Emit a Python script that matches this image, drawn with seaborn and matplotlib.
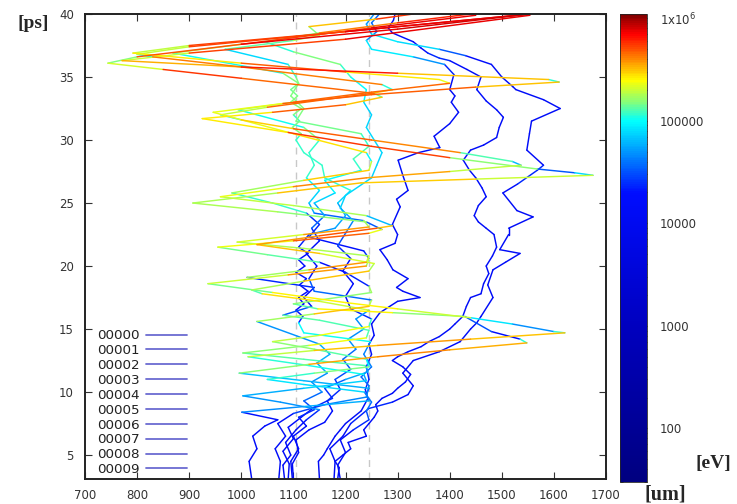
import numpy as np
import pandas as pd
import matplotlib
matplotlib.use("Agg")
import matplotlib.pyplot as plt
import seaborn as sns
from matplotlib.colors import LinearSegmentedColormap, LogNorm
from matplotlib.lines import Line2D
from matplotlib.cm import ScalarMappable

# ---------------- data: (x [um], t [ps], log10 E [eV]) ----------------
labels = ["00000", "00001", "00002", "00003", "00004",
          "00005", "00006", "00007", "00008", "00009"]

traj_00000 = [(1185,3.1,4.1),(1188,4.0,4.1),(1180,4.5,4.2),(1195,5.0,4.1),(1210,5.5,4.2),(1205,6.0,4.1),
              (1240,6.5,4.2),(1235,7.0,4.1),(1245,7.5,4.2),(1255,8.0,4.1),(1262,8.5,4.2),(1258,9.0,4.1),
              (1270,9.5,4.2),(1290,9.9,4.1),(1300,10.3,4.2),(1315,10.8,4.3),(1325,11.4,4.2),(1310,12.0,4.1),
              (1290,12.5,4.2),(1300,12.8,4.1),(1320,13.2,4.2),(1345,13.6,4.3),(1360,14.0,4.2),(1380,14.4,4.1),
              (1400,15.0,4.2),(1410,15.4,4.1),(1425,16.0,4.2),(1432,16.8,4.1),(1440,17.5,4.2),(1460,17.8,4.1),
              (1465,18.6,4.2),(1475,19.4,4.1),(1470,20.0,4.2),(1482,20.8,4.1),(1490,21.5,4.2),(1485,22.5,4.1),
              (1470,23.0,4.2),(1455,23.5,4.1),(1447,24.0,4.2),(1455,24.8,4.1),(1470,25.5,4.2),(1462,26.2,4.3),
              (1450,27.0,4.2),(1438,27.6,4.1),(1426,28.4,4.2),(1440,29.2,4.1),(1465,29.6,4.2),(1490,30.2,4.1),
              (1495,31.0,4.2),(1503,31.8,4.1),(1490,32.4,4.2),(1470,33.1,4.3),(1452,34.0,4.2),(1460,35.0,4.1),
              (1433,35.6,4.2),(1400,36.3,4.3),(1380,36.5,4.4),(1358,36.9,4.3),(1345,37.3,4.2),(1330,37.8,4.3),
              (1290,38.5,4.2),(1282,38.9,4.3),(1292,39.5,4.2),(1295,40.0,4.2)]

traj_00001 = [(1150,3.1,4.1),(1148,4.5,4.1),(1158,5.0,4.2),(1165,5.5,4.1),(1180,6.5,4.1),(1190,7.0,4.2),
              (1200,7.5,4.1),(1230,8.5,4.2),(1243,9.5,4.3),(1238,10.2,4.3),(1245,11.0,4.4),(1240,12.0,4.3),
              (1250,13.0,4.2),(1245,13.8,4.1),(1255,14.5,4.2),(1250,15.4,4.1),(1266,16.3,4.2),(1300,17.2,4.1),
              (1343,17.5,4.2),(1310,18.0,4.1),(1298,18.3,4.2),(1320,19.0,4.1),(1291,19.7,4.2),(1280,20.5,4.1),
              (1266,21.3,4.2),(1295,21.8,4.1),(1300,22.5,4.2),(1290,23.3,4.1),(1305,24.7,4.2),(1298,25.3,4.1),
              (1320,26.0,4.1),(1310,27.2,4.2),(1301,28.4,4.2),(1340,29.0,4.1),(1381,29.4,4.2),(1370,30.3,4.1),
              (1400,31.3,4.2),(1417,32.2,4.1),(1403,33.0,4.2),(1410,33.5,4.1),(1400,34.0,4.1),(1408,35.2,4.2),
              (1390,36.0,4.4),(1330,36.6,4.8),(1250,37.2,5.0),(1240,37.9,4.7),(1260,38.6,4.5),(1250,39.3,4.6),
              (1265,40.0,4.5)]

traj_00002 = [(1178,3.1,4.1),(1180,4.5,4.1),(1170,5.5,4.2),(1195,6.5,4.1),(1210,7.5,4.2),(1245,8.7,4.4),
              (1290,9.2,4.3),(1320,9.8,4.2),(1330,10.5,4.1),(1310,11.5,4.2),(1330,12.5,4.1),(1380,13.2,4.2),
              (1420,14.0,4.1),(1440,15.0,4.2),(1452,15.5,4.1),(1460,16.0,4.1),(1483,17.5,4.2),(1473,18.5,4.1),
              (1483,19.7,4.2),(1507,20.3,4.1),(1535,21.0,4.2),(1496,21.3,4.1),(1513,22.5,4.2),(1513,23.0,4.1),
              (1560,23.9,4.2),(1529,24.4,4.1),(1502,25.8,4.2),(1530,26.5,4.3),(1568,27.6,4.4),(1580,28.0,4.2),
              (1548,29.2,4.1),(1553,30.5,4.2),(1557,31.5,4.1),(1612,32.5,4.2),(1580,33.2,4.1),(1527,34.0,4.2),
              (1522,34.2,4.1),(1500,35.0,4.2),(1480,36.0,4.1),(1430,36.7,4.3),(1380,37.2,4.6),(1300,37.8,5.0),
              (1250,38.4,4.8),(1240,39.2,4.6),(1255,40.0,4.7)]

traj_00003 = [(1020,3.1,4.1),(1015,4.5,4.1),(1030,5.5,4.2),(1022,6.5,4.1),(1045,7.3,4.2),(1070,7.8,4.3),
              (1001,8.4,4.3),(1120,8.85,4.8),(1245,9.3,4.7),(1240,9.8,4.4),(1245,10.3,4.4),(1120,10.9,4.9),
              (996,11.5,4.6),(1130,12.2,5.4),(1262,12.8,5.6),(1400,13.35,5.6),(1548,13.9,5.3),(1535,14.2,4.3),
              (1480,14.8,4.2),(1429,16.0,4.6),(1290,16.3,5.4),(1147,16.6,5.4),(1100,17.0,4.3),(1250,17.9,5.5),
              (1245,18.4,4.4),(1200,19.5,4.2),(1150,20.3,4.3),(1050,20.9,5.4),(955,21.5,4.4),(1100,22.0,5.7),
              (1245,22.6,5.6),(1270,22.9,4.6),(1240,23.5,4.3),(1070,24.3,5.5),(907,25.0,4.5),(1070,25.8,5.5),
              (1230,26.6,5.5),(1450,26.9,5.4),(1675,27.2,5.0),(1640,27.4,4.6),(1568,27.7,4.3),(1400,28.6,5.5),
              (1250,29.5,5.8),(1090,30.6,5.6),(925,31.7,4.9),(1060,32.2,5.6),(1200,32.8,5.7),(1270,33.4,4.9),
              (1255,33.7,5.2),(1000,34.9,5.8),(850,35.6,5.6),(744,36.1,4.5),(800,36.6,5.4),(1000,37.6,5.8),
              (1300,38.8,5.9),(1554,40.0,5.9)]

traj_00004 = [(1083,3.1,4.1),(1080,4.2,4.1),(1095,5.0,4.1),(1085,6.0,4.2),(1105,7.0,4.2),(1125,7.8,4.3),
              (1150,8.6,4.4),(1075,9.2,4.8),(1003,9.7,4.4),(1120,10.3,4.9),(1240,10.9,4.8),(1235,11.4,4.5),
              (1130,12.1,5.2),(1013,12.8,4.6),(1140,13.3,5.5),(1262,13.7,5.5),(1440,14.2,5.6),(1621,14.7,5.2),
              (1600,14.8,4.6),(1520,15.4,4.7),(1440,15.9,5.0),(1300,16.6,5.4),(1200,17.1,5.4),(1060,17.9,5.4),
              (936,18.6,4.4),(1090,19.3,5.6),(1240,20.0,5.5),(1245,20.6,4.4),(1235,21.2,4.3),(1130,22.3,4.3),
              (1150,23.3,4.4),(1125,24.2,4.4),(1060,25.0,5.3),(982,25.8,4.4),(1120,26.8,5.5),(1245,27.6,5.4),
              (1250,28.3,4.9),(1240,29.0,5.0),(1100,30.5,5.6),(946,32.2,4.6),(1080,32.9,5.6),(1250,33.6,5.7),
              (1450,34.2,5.6),(1610,34.6,5.2),(1590,34.8,4.6),(1300,35.3,5.8),(1000,35.8,5.8),(771,36.3,4.7),
              (900,36.9,5.5),(1200,38.0,5.8),(1554,39.9,5.9)]

traj_00005 = [(1090,3.1,4.1),(1092,4.3,4.1),(1080,5.3,4.2),(1100,6.3,4.2),(1090,7.2,4.2),(1115,8.0,4.3),
              (1140,8.8,4.3),(1175,9.5,4.4),(1160,10.3,4.4),(1200,11.0,4.6),(1243,11.6,4.8),(1238,12.1,4.5),
              (1120,12.6,5.3),(1003,13.1,4.6),(1130,13.7,5.4),(1240,14.3,5.3),(1245,14.9,4.5),(1150,15.7,5.3),
              (1080,16.1,4.6),(1135,16.8,4.3),(1120,17.5,4.2),(1140,18.3,4.3),(1011,19.1,4.4),(1130,19.7,5.5),
              (1240,20.3,5.6),(1245,20.8,4.5),(1120,21.4,5.5),(992,21.9,4.5),(1120,22.5,5.6),(1245,23.1,5.5),
              (1235,23.6,4.4),(1140,24.2,4.6),(1130,25.0,4.8),(1150,26.0,4.9),(1125,27.0,5.0),(1140,28.0,5.1),
              (1130,29.0,5.0),(1150,30.0,5.1),(1120,31.0,5.2),(994,32.4,4.5),(1100,33.0,5.5),(1250,33.8,5.7),
              (1400,34.5,5.5),(1380,34.8,4.9),(1200,35.4,5.6),(1000,36.1,5.7),(792,36.9,4.6),(900,37.5,5.5),
              (1200,38.6,5.8),(1554,40.0,5.9)]

traj_00006 = [(1098,3.1,4.1),(1095,4.5,4.1),(1110,5.5,4.2),(1100,6.5,4.2),(1125,7.3,4.3),(1110,8.0,4.3),
              (1140,8.6,4.4),(1120,9.3,4.5),(1155,10.0,4.6),(1135,10.8,4.7),(1165,11.5,4.6),(1145,12.3,4.8),
              (1170,13.0,4.7),(1150,13.8,4.8),(1030,15.6,4.4),(1140,16.2,5.5),(1245,16.8,5.5),(1250,17.3,4.5),
              (1140,18.0,4.6),(1130,19.0,4.3),(1145,20.0,4.2),(1125,21.0,4.3),(1150,22.0,4.2),(1135,23.0,4.4),
              (1160,24.0,4.6),(1140,25.0,4.8),(1180,25.8,4.9),(1160,26.8,5.0),(1230,27.6,5.0),(1215,28.5,5.1),
              (1245,29.5,5.1),(1230,30.5,5.0),(1105,31.5,5.2),(1120,32.5,5.1),(1095,33.5,5.2),(1110,34.5,5.1),
              (1080,35.3,5.2),(869,36.9,4.5),(1000,37.6,5.5),(1250,38.9,5.8),(1450,39.9,5.9)]

traj_00007 = [(1072,3.1,4.1),(1075,4.5,4.1),(1065,5.5,4.2),(1085,6.5,4.2),(1070,7.5,4.2),(1100,8.3,4.3),
              (1160,9.0,4.5),(1240,9.6,4.7),(1245,10.5,4.5),(1230,11.2,4.6),(1250,12.0,4.5),(1235,13.0,4.7),
              (1248,14.0,4.5),(1120,14.7,5.2),(1110,15.5,4.4),(1118,16.0,4.2),(1105,16.5,4.3),(1120,17.0,4.2),
              (1110,17.5,4.2),(1128,18.0,4.3),(1112,18.5,4.2),(1125,19.0,4.3),(1105,19.5,4.2),(1122,20.0,4.3),
              (1110,20.5,4.2),(1128,21.0,4.3),(1110,21.5,4.2),(1130,22.5,4.4),(1180,23.0,4.8),(1200,24.0,4.6),
              (1185,25.0,4.8),(1210,26.0,4.9),(1160,27.0,5.1),(1155,28.0,5.0),(1120,29.0,5.1),(1105,30.0,5.0),
              (1115,30.5,5.1),(1098,31.0,5.2),(1112,31.5,5.0),(1100,32.0,5.1),(1115,32.5,5.2),(1095,33.0,5.1),
              (1108,33.5,5.2),(1095,34.0,5.0),(1110,34.5,5.2),(1105,35.0,5.1),(1090,36.0,5.0),(969,37.2,4.6),
              (1100,37.9,5.3),(1150,38.3,5.1),(1130,39.0,5.2),(1260,39.6,5.6),(1330,40.0,5.8)]

traj_00008 = [(1190,3.1,4.1),(1185,4.2,4.1),(1200,5.2,4.2),(1190,6.2,4.2),(1215,7.0,4.3),(1245,7.8,4.4),
              (1240,8.5,4.5),(1250,9.2,4.6),(1236,10.0,4.6),(1120,10.6,5.0),(1050,11.0,4.7),(1140,11.5,5.2),
              (1245,12.0,5.1),(1240,12.6,4.6),(1140,13.4,5.3),(1060,14.0,4.9),(1150,14.5,5.4),(1245,15.2,5.3),
              (1250,15.8,4.4),(1210,16.6,4.3),(1200,17.6,4.2),(1215,18.6,4.3),(1195,19.6,4.2),(1210,20.6,4.3),
              (1185,21.6,4.4),(1200,22.6,4.5),(1215,23.6,4.7),(1190,24.6,4.8),(1200,25.6,4.9),(1250,27.0,4.9),
              (1260,28.0,4.8),(1270,29.0,4.9),(1240,31.0,4.9),(1250,32.0,4.8),(1235,33.0,4.9),(1240,34.0,5.0),
              (1210,35.0,5.0),(1190,36.0,5.1),(1100,37.0,5.2),(1045,37.8,4.6),(1150,38.5,5.4),(1300,39.3,5.7),
              (1440,40.0,5.8)]

traj_00009 = [(1100,3.1,4.1),(1098,4.3,4.1),(1110,5.2,4.2),(1105,6.2,4.2),(1130,7.0,4.2),(1160,7.6,4.3),
              (1175,8.5,4.3),(1165,9.3,4.3),(1190,10.2,4.4),(1180,11.0,4.4),(1210,11.8,4.5),(1195,12.6,4.5),
              (1220,13.4,4.6),(1205,14.2,4.7),(1235,15.0,4.6),(1220,15.8,4.7),(1245,16.5,4.7),(1150,17.2,5.5),
              (1040,17.8,5.3),(1020,18.1,4.5),(1120,18.8,5.5),(1245,19.6,5.5),(1255,20.2,4.5),(1150,21.0,5.6),
              (1030,21.7,5.2),(1150,22.4,5.7),(1260,23.0,5.7),(1290,23.2,4.9),(1240,24.0,4.5),(1100,24.8,5.5),
              (960,25.5,4.6),(1100,26.3,5.6),(1240,27.0,5.6),(1400,27.5,5.4),(1537,28.0,4.9),(1520,28.3,4.5),
              (1420,29.0,5.3),(1250,30.0,5.7),(1100,30.9,5.6),(1000,31.6,5.1),(960,32.0,4.6),(1050,32.6,5.5),
              (1250,33.7,5.7),(1290,34.0,4.9),(1270,34.4,5.1),(1000,35.8,5.8),(830,36.6,5.1),(800,36.8,4.6),
              (900,37.4,5.5),(1200,38.6,5.8),(1554,40.0,5.9)]

trajectories = [traj_00000, traj_00001, traj_00002, traj_00003, traj_00004,
                traj_00005, traj_00006, traj_00007, traj_00008, traj_00009]

guide_x = [1105, 1245]               # dashed vertical guides [um]
x_ticks = list(range(700, 1701, 100))
y_ticks = list(range(5, 41, 5))
cb_ticks = [100, 1000, 10000, 100000, 1000000]
cb_labels = ["100", "1000", "10000", "100000", "1x10$^6$"]
e_min, e_max = 30, 1.1e6

# ---------------- colour map (gnuplot-like palette, log scale) ----------------
lo, hi = np.log10(e_min), np.log10(e_max)
anchors = [(lo, (0.0, 0.0, 0.50)), (3.0, (0.0, 0.0, 0.75)), (4.3, (0.0, 0.05, 1.0)),
           (4.6, (0.0, 0.45, 1.0)), (5.0, (0.0, 1.0, 1.0)), (5.2, (0.55, 1.0, 0.45)),
           (5.4, (1.0, 1.0, 0.0)), (5.6, (1.0, 0.55, 0.0)), (5.85, (1.0, 0.0, 0.0)),
           (hi, (0.5, 0.0, 0.0))]
cmap = LinearSegmentedColormap.from_list(
    "energy", [(min(max((a - lo) / (hi - lo), 0.0), 1.0), c) for a, c in anchors])
norm = LogNorm(vmin=e_min, vmax=e_max)

# ---------------- segments table (segment colour leans to the faster end) ----------------
rows = []
for lab, tr in zip(labels, trajectories):
    for i in range(len(tr) - 1):
        x0, t0, e0 = tr[i]
        x1, t1, e1 = tr[i + 1]
        e_hi, e_lo = max(e0, e1), min(e0, e1)
        ev = 10 ** (e_hi - 0.25 * (e_hi - e_lo))
        sid = f"{lab}-{i:03d}"
        rows.append(dict(seg=sid, x=x0, t=t0, E=ev))
        rows.append(dict(seg=sid, x=x1, t=t1, E=ev))
seg_df = pd.DataFrame(rows)

# ---------------- figure ----------------
sns.set_style("ticks")
plt.rcParams["font.family"] = ["DejaVu Sans"]
fig = plt.figure(figsize=(7.37, 5.04), dpi=100)
ax = fig.add_axes([0.1153, 0.0496, 0.707, 0.9226])
cax = fig.add_axes([0.8412, 0.0437, 0.0367, 0.9285])

for gx in guide_x:
    ax.axvline(gx, color="#c8c8c8", lw=1.0, ls=(0, (5, 4)), zorder=0)

sns.lineplot(data=seg_df, x="x", y="t", hue="E", units="seg", estimator=None,
             sort=False, palette=cmap, hue_norm=norm, legend=False,
             lw=1.05, ax=ax)

ax.set_xlim(700, 1700)
ax.set_ylim(3.1, 40)
ax.set_xticks(x_ticks)
ax.set_yticks(y_ticks)
ax.set_xlabel("")
ax.set_ylabel("")
ax.tick_params(direction="in", length=5, width=0.8, top=True, right=True,
               labelsize=8.5, labelcolor="#333333", color="#333333")
ax.tick_params(axis="x", pad=7)
ax.tick_params(axis="y", pad=8)
for s in ax.spines.values():
    s.set_linewidth(1.4)
    s.set_color("#222222")

handles = [Line2D([], [], color=(0.42, 0.42, 0.82), lw=1.3) for _ in labels]
leg = ax.legend(handles, labels, loc="lower left", bbox_to_anchor=(0.023, 0.006),
                frameon=False, markerfirst=False, handlelength=3.0,
                handletextpad=0.5, fontsize=9.7, labelspacing=0.14,
                borderaxespad=0.0, borderpad=0.0)
for txt in leg.get_texts():
    txt.set_color("#222222")

sm = ScalarMappable(norm=norm, cmap=cmap)
cb = fig.colorbar(sm, cax=cax)
cb.set_ticks(cb_ticks)
cb.set_ticklabels(cb_labels)
cb.outline.set_linewidth(0.6)
cax.tick_params(which="both", direction="in", left=True, right=True,
                labelsize=8.5, labelcolor="#333333", color="#222222", pad=9)
cax.tick_params(which="major", length=5)
cax.tick_params(which="minor", length=2.5)

serif = ["Liberation Serif", "DejaVu Serif"]
fig.text(0.024, 0.945, "[ps]", family=serif, weight="bold", fontsize=14)
fig.text(0.874, 0.009, "[um]", family=serif, weight="bold", fontsize=14.5)
fig.text(0.944, 0.072, "[eV]", family=serif, weight="bold", fontsize=14)

fig.savefig("out.png", dpi=100)
